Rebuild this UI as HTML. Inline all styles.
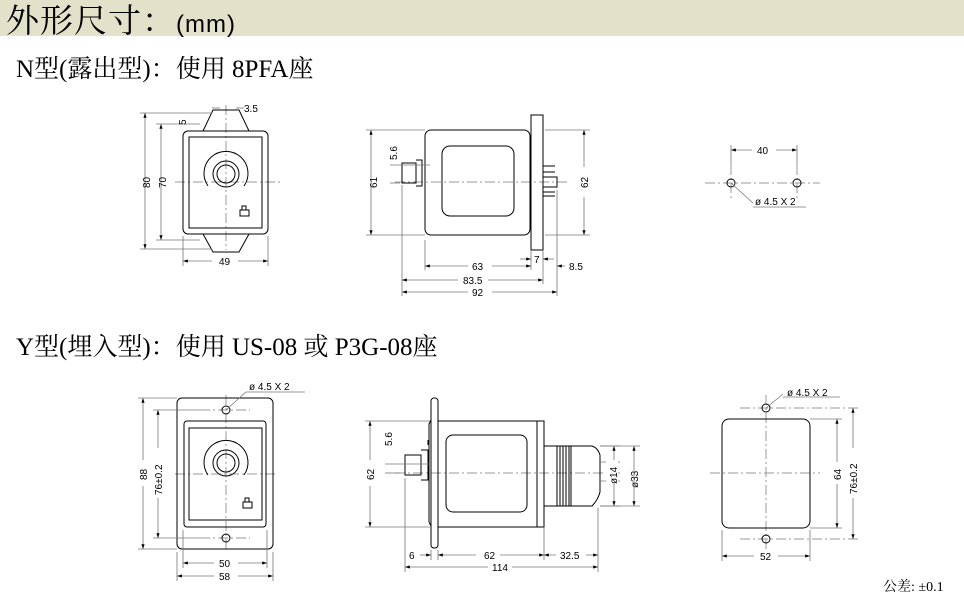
<!DOCTYPE html>
<html><head><meta charset="utf-8"><style>
body{margin:0;width:964px;height:596px;background:#fff;overflow:hidden;position:relative;font-family:"Liberation Serif","Noto Serif CJK SC",serif}
.hdr{position:absolute;left:0;top:0;width:964px;height:36px;background:#e4e1ca}
.t{position:absolute;white-space:nowrap;color:#000}
svg{position:absolute;left:0;top:0}
svg text{font-family:"Liberation Sans",sans-serif;font-size:10px;fill:#000;stroke:none}
</style></head><body>
<div class="hdr"></div>
<div class="t" style="left:6px;top:-5px;font-size:33px;font-family:'Noto Serif CJK SC',serif;letter-spacing:1px">外形尺寸：<span style="font-family:'Liberation Sans',sans-serif;font-size:24px">(mm)</span></div>
<div class="t" style="left:16px;top:49px;font-size:25px;">N型(露出型)：使用 8PFA座</div>
<div class="t" style="left:16px;top:327px;font-size:25px;">Y型(埋入型)：使用 US-08 或 P3G-08座</div>
<div class="t" style="left:883px;top:576px;font-size:14px;">公差: ±0.1</div>
<svg width="964" height="596" viewBox="0 0 964 596" fill="none" stroke="#000" stroke-width="1">
<defs><marker id="a" markerWidth="6" markerHeight="4" refX="6" refY="2" orient="auto-start-reverse"><path d="M0,0 L6,2 L0,4z" fill="#000" stroke="none"/></marker></defs>
<g stroke="#999" stroke-dasharray="10,3,2,3">
<line x1="226" y1="105" x2="226" y2="250"/><line x1="175" y1="182" x2="280" y2="182"/>
<line x1="395" y1="182" x2="570" y2="182"/>
<line x1="705" y1="183" x2="820" y2="183"/><line x1="731" y1="165" x2="731" y2="200"/><line x1="797" y1="165" x2="797" y2="200"/>
<line x1="226" y1="395" x2="226" y2="552"/><line x1="175" y1="474" x2="278" y2="474"/><line x1="200" y1="410" x2="250" y2="410"/><line x1="200" y1="538" x2="250" y2="538"/>
<line x1="395" y1="473" x2="620" y2="473"/>
<line x1="766" y1="395" x2="766" y2="552"/><line x1="710" y1="473" x2="820" y2="473"/><line x1="740" y1="408" x2="860" y2="408"/><line x1="740" y1="539" x2="860" y2="539"/>
</g>
<!-- N front -->
<rect x="183" y="131" width="85" height="103" rx="5"/><rect x="189" y="137" width="73" height="91"/>
<path d="M203,131 L213,110 L239,110 L249,131 M203,234 L213,252 L239,252 L249,234"/>
<circle cx="226" cy="174" r="13"/><circle cx="226" cy="174" r="9"/>
<path d="M208,186 A22,22 0 1 1 244,186"/>
<rect x="240" y="210" width="9" height="6"/><rect x="242" y="206" width="4" height="4"/>
<g stroke="#777" stroke-width="0.8">
<line x1="145" y1="113" x2="145" y2="249" marker-start="url(#a)" marker-end="url(#a)"/><line x1="140" y1="113" x2="212" y2="113"/><line x1="140" y1="249" x2="212" y2="249"/>
<line x1="161" y1="124" x2="161" y2="240" marker-start="url(#a)" marker-end="url(#a)"/><line x1="156" y1="124" x2="200" y2="124"/><line x1="156" y1="240" x2="200" y2="240"/>
<line x1="183" y1="261" x2="268" y2="261" marker-start="url(#a)" marker-end="url(#a)"/><line x1="183" y1="236" x2="183" y2="266"/><line x1="268" y1="236" x2="268" y2="266"/>
<line x1="212" y1="108" x2="220" y2="108"/><line x1="236" y1="108" x2="244" y2="108"/>
</g>
<rect x="148" y="165" width="8" height="32" fill="#fff" stroke="none"/><text x="0" y="0" transform="translate(150,188) rotate(-90)">80</text>
<rect x="163" y="165" width="8" height="32" fill="#fff" stroke="none"/><text transform="translate(166,188) rotate(-90)">70</text>
<rect x="212" y="255" width="26" height="12" fill="#fff" stroke="none"/><text x="219" y="265">49</text>
<text x="244" y="112">3.5</text><text transform="translate(186,125) rotate(-90)">5</text>
<!-- N side -->
<rect x="425" y="130" width="105" height="105" rx="6"/><rect x="531" y="115" width="12" height="135"/>
<rect x="442" y="146" width="72" height="70" rx="8"/>
<rect x="402" y="163" width="14" height="20"/><path d="M416,160 L422,160 L422,186 L416,186"/>
<path d="M543,166 h12 M543,172 h12 M543,177 h14 v10 h-14 M543,192 h12 M543,196 h12"/>
<g stroke="#777" stroke-width="0.8">
<line x1="371" y1="130" x2="371" y2="235" marker-start="url(#a)" marker-end="url(#a)"/><line x1="366" y1="130" x2="425" y2="130"/><line x1="366" y1="235" x2="425" y2="235"/>
<line x1="584" y1="130" x2="584" y2="235" marker-start="url(#a)" marker-end="url(#a)"/><line x1="545" y1="130" x2="590" y2="130"/><line x1="545" y1="235" x2="590" y2="235"/>
<line x1="425" y1="240" x2="425" y2="270"/><line x1="531" y1="250" x2="531" y2="270"/><line x1="543" y1="250" x2="543" y2="284"/><line x1="402" y1="185" x2="402" y2="296"/><line x1="557" y1="190" x2="557" y2="296"/>
<line x1="425" y1="266" x2="531" y2="266" marker-start="url(#a)" marker-end="url(#a)"/>
<line x1="402" y1="280" x2="543" y2="280" marker-start="url(#a)" marker-end="url(#a)"/>
<line x1="402" y1="292" x2="557" y2="292" marker-start="url(#a)" marker-end="url(#a)"/>
<line x1="520" y1="259" x2="531" y2="259" marker-end="url(#a)"/><line x1="554" y1="259" x2="543" y2="259" marker-end="url(#a)"/>
<line x1="565" y1="266" x2="557" y2="266" marker-end="url(#a)"/>
<line x1="390" y1="165" x2="430" y2="165"/><line x1="390" y1="183" x2="400" y2="183"/>
</g>
<rect x="374" y="165" width="8" height="30" fill="#fff" stroke="none"/><text transform="translate(377,188) rotate(-90)">61</text>
<rect x="580" y="167" width="8" height="30" fill="#fff" stroke="none"/><text transform="translate(588,188) rotate(-90)">62</text>
<text transform="translate(397,160) rotate(-90)">5.6</text>
<rect x="468" y="260" width="24" height="12" fill="#fff" stroke="none"/><text x="472" y="270">63</text>
<rect x="458" y="274" width="30" height="12" fill="#fff" stroke="none"/><text x="463" y="284">83.5</text>
<rect x="468" y="286" width="24" height="12" fill="#fff" stroke="none"/><text x="472" y="296">92</text>
<text x="534" y="263">7</text><text x="569" y="270">8.5</text>
<!-- N panel -->
<circle cx="731" cy="183" r="4"/><circle cx="797" cy="183" r="4"/>
<g stroke="#777" stroke-width="0.8"><line x1="731" y1="150" x2="797" y2="150" marker-start="url(#a)" marker-end="url(#a)"/><line x1="731" y1="145" x2="731" y2="165"/><line x1="797" y1="145" x2="797" y2="165"/>
<line x1="731" y1="183" x2="753" y2="203"/><line x1="753" y1="207" x2="806" y2="207"/></g>
<rect x="752" y="144" width="24" height="12" fill="#fff" stroke="none"/><text x="757" y="154">40</text>
<text x="755" y="205">ø 4.5 X 2</text>
<!-- Y front -->
<rect x="177" y="398" width="96" height="151" rx="5"/><rect x="184" y="421" width="82" height="106" rx="3"/><rect x="189" y="428" width="73" height="92"/>
<circle cx="226" cy="410" r="4"/><circle cx="226" cy="538" r="4"/>
<circle cx="226" cy="463" r="13"/><circle cx="226" cy="463" r="9"/><path d="M208,475 A22,22 0 1 1 244,475"/>
<rect x="243" y="502" width="9" height="6"/><rect x="245" y="498" width="4" height="4"/>
<g stroke="#777" stroke-width="0.8">
<line x1="143" y1="398" x2="143" y2="549" marker-start="url(#a)" marker-end="url(#a)"/><line x1="138" y1="398" x2="177" y2="398"/><line x1="138" y1="549" x2="177" y2="549"/>
<line x1="158" y1="410" x2="158" y2="538" marker-start="url(#a)" marker-end="url(#a)"/><line x1="153" y1="410" x2="200" y2="410"/><line x1="153" y1="538" x2="200" y2="538"/>
<line x1="183" y1="563" x2="267" y2="563" marker-start="url(#a)" marker-end="url(#a)"/><line x1="183" y1="530" x2="183" y2="568"/><line x1="267" y1="530" x2="267" y2="568"/>
<line x1="177" y1="576" x2="273" y2="576" marker-start="url(#a)" marker-end="url(#a)"/><line x1="177" y1="552" x2="177" y2="581"/><line x1="273" y1="552" x2="273" y2="581"/>
<line x1="226" y1="410" x2="246" y2="392"/><line x1="246" y1="392" x2="305" y2="392"/>
</g>
<rect x="138" y="460" width="10" height="26" fill="#fff" stroke="none"/><text transform="translate(147,480) rotate(-90)">88</text>
<rect x="153" y="448" width="10" height="50" fill="#fff" stroke="none"/><text transform="translate(162,495) rotate(-90)">76±0.2</text>
<rect x="214" y="557" width="24" height="12" fill="#fff" stroke="none"/><text x="219" y="567">50</text>
<rect x="214" y="570" width="24" height="12" fill="#fff" stroke="none"/><text x="219" y="580">58</text>
<text x="249" y="390">ø 4.5 X 2</text>
<!-- Y side -->
<rect x="431" y="398" width="7" height="150" rx="3"/>
<path d="M431,420 L429,424 L429,522 L431,526"/>
<rect x="438" y="421" width="106" height="106"/><line x1="537" y1="421" x2="537" y2="527"/>
<rect x="446" y="435" width="81" height="77" rx="7"/>
<rect x="405" y="455" width="16" height="20"/><path d="M421,450 L428,450 L428,480 L421,480 M428,445 L428,440"/>
<path d="M544,446 L557,446 M544,506 L557,506"/>
<rect x="557" y="446" width="14" height="60"/><path d="M560,446 v60 M563,446 v60 M566,446 v60 M569,446 v60"/>
<path d="M571,446 L592,446 Q598,448 600,455 L600,492 Q598,500 592,506 L571,506"/>
<g stroke="#777" stroke-width="0.8">
<line x1="370" y1="421" x2="370" y2="527" marker-start="url(#a)" marker-end="url(#a)"/><line x1="365" y1="421" x2="430" y2="421"/><line x1="365" y1="527" x2="430" y2="527"/>
<line x1="600" y1="446" x2="620" y2="446"/><line x1="600" y1="506" x2="620" y2="506"/><line x1="614" y1="446" x2="614" y2="506" marker-start="url(#a)" marker-end="url(#a)"/>
<line x1="600" y1="462" x2="620" y2="462"/><line x1="600" y1="481" x2="620" y2="481"/>
<line x1="405" y1="478" x2="405" y2="572"/><line x1="431" y1="550" x2="431" y2="560"/><line x1="438" y1="550" x2="438" y2="560"/><line x1="544" y1="527" x2="544" y2="560"/><line x1="598" y1="508" x2="598" y2="572"/>
<line x1="420" y1="555" x2="431" y2="555" marker-end="url(#a)"/><line x1="438" y1="555" x2="544" y2="555" marker-start="url(#a)" marker-end="url(#a)"/><line x1="544" y1="555" x2="598" y2="555" marker-start="url(#a)" marker-end="url(#a)"/>
<line x1="405" y1="567" x2="598" y2="567" marker-start="url(#a)" marker-end="url(#a)"/>
<line x1="385" y1="464" x2="430" y2="464"/><line x1="385" y1="473" x2="400" y2="473"/>
</g>
<rect x="365" y="460" width="10" height="26" fill="#fff" stroke="none"/><text transform="translate(374,480) rotate(-90)">62</text>
<text transform="translate(392,446) rotate(-90)">5.6</text>
<rect x="476" y="549" width="24" height="12" fill="#fff" stroke="none"/><text x="484" y="559">62</text>
<rect x="556" y="549" width="30" height="12" fill="#fff" stroke="none"/><text x="560" y="559">32.5</text>
<text x="409" y="559">6</text>
<rect x="488" y="561" width="24" height="12" fill="#fff" stroke="none"/><text x="492" y="571">114</text>
<rect x="606" y="460" width="12" height="24" fill="#fff" stroke="none"/><text transform="translate(617,484) rotate(-90)">ø14</text>
<rect x="628" y="455" width="12" height="34" fill="#fff" stroke="none"/><text transform="translate(638,488) rotate(-90)">ø33</text>
<g stroke="#777" stroke-width="0.8"><line x1="634" y1="446" x2="634" y2="506" marker-start="url(#a)" marker-end="url(#a)"/><line x1="600" y1="446" x2="640" y2="446"/><line x1="600" y1="506" x2="640" y2="506"/></g>
<!-- Y panel -->
<rect x="722" y="419" width="88" height="109" rx="7"/>
<circle cx="766" cy="408" r="4"/><circle cx="766" cy="539" r="4"/>
<g stroke="#777" stroke-width="0.8">
<line x1="837" y1="419" x2="837" y2="528" marker-start="url(#a)" marker-end="url(#a)"/><line x1="810" y1="419" x2="842" y2="419"/><line x1="810" y1="528" x2="842" y2="528"/>
<line x1="853" y1="408" x2="853" y2="539" marker-start="url(#a)" marker-end="url(#a)"/>
<line x1="722" y1="556" x2="810" y2="556" marker-start="url(#a)" marker-end="url(#a)"/><line x1="722" y1="530" x2="722" y2="561"/><line x1="810" y1="530" x2="810" y2="561"/>
<line x1="766" y1="408" x2="783" y2="394"/><line x1="783" y1="397" x2="840" y2="397"/>
</g>
<rect x="832" y="462" width="10" height="22" fill="#fff" stroke="none"/><text transform="translate(841,480) rotate(-90)">64</text>
<rect x="848" y="448" width="10" height="50" fill="#fff" stroke="none"/><text transform="translate(857,494) rotate(-90)">76±0.2</text>
<rect x="754" y="550" width="24" height="12" fill="#fff" stroke="none"/><text x="760" y="560">52</text>
<text x="787" y="396">ø 4.5 X 2</text>
</svg>
</body></html>
